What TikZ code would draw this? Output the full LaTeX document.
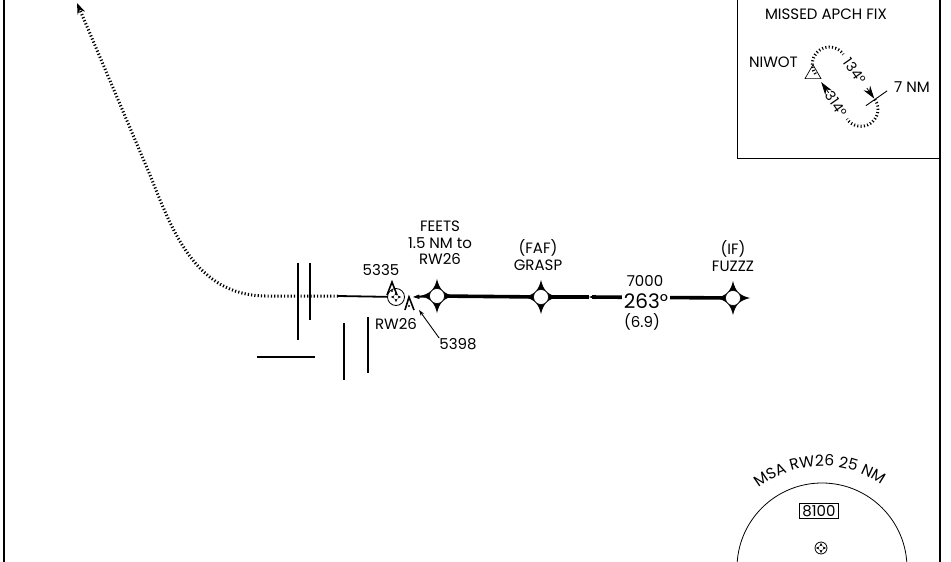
\documentclass[tikz,border=0pt]{standalone}
\usepackage{fontspec}
\setmainfont{Poppins}
\usepackage{tikz}
\usetikzlibrary{shapes,shapes.geometric,arrows.meta,decorations.text}

\tikzset{
  spikes/.pic={
    \fill (0,-17) .. controls (2.5,-6.5) and (6.5,-2.5) .. (17,0)
      .. controls (6.5,2.5) and (2.5,6.5) .. (0,17)
      .. controls (-2.5,6.5) and (-6.5,2.5) .. (-17,0)
      .. controls (-6.5,-2.5) and (-2.5,-6.5) .. cycle;
  }
}

\begin{document}
\begin{tikzpicture}[x=1pt,y=-1pt,
    lbl/.style={align=center,inner sep=0pt,font=\fontsize{15}{16.5}\selectfont},
    hlbl/.style={inner sep=0pt,font=\fontsize{14}{16}\selectfont,rotate=-55},
    wpt/.style={circle,draw,fill=white,line width=0.6pt,minimum size=15pt,inner sep=0pt},
    fly/.style={circle,draw,line width=0.8pt,inner sep=0pt},
    crs/.style={line width=3.6pt},
    rwybar/.style={line width=2.2pt},
    dots/.style={line width=3pt,dash pattern=on 1.2pt off 2.1pt},
    htick/.style={line width=3pt,dash pattern=on 1.1pt off 2.2pt},
    barb/.tip={Stealth[length=14pt,width=10pt,inset=10pt]},
    hold/.tip={Stealth[length=13pt,width=8pt]}
  ]
  \useasboundingbox (0,0) rectangle (951,562);

  % frame and missed approach box
  \draw[line width=1.8pt] (4,0) -- (4,562);
  \draw[line width=1.8pt] (940,0) -- (940,562);
  \draw[line width=0.8pt] (737,0) -- (737,158) -- (940,158);

  % runway bars
  \draw[rwybar] (298,263) -- (298,340);
  \draw[rwybar] (310,263) -- (310,320);
  \draw[rwybar] (257,357) -- (315,357);
  \draw[rwybar] (344,323) -- (344,380);
  \draw[rwybar] (368,317) -- (368,373);

  % fixes
  \pic at (437,296) {spikes};
  \node[wpt] (feets) at (437,296) {};
  \pic at (541,297) {spikes};
  \node[wpt] (grasp) at (541,297) {};
  \pic at (733,298) {spikes};
  \node[wpt] (fuzzz) at (733,298) {};

  \node[fly,minimum size=17pt] (rw) at (396,297) {};
  \pic[scale=0.3] at (396,297) {spikes};
  \fill[white] (396,297) circle (2.3);

  \coordinate (thr) at (413,297);
  \coordinate (mapt) at (338,296);
  \coordinate (ma) at (77,3);
  \coordinate (crsarr) at (589,297);

  % approach course
  \draw[crs,-{barb}] (fuzzz) -- (crsarr);
  \draw[crs] (crsarr) -- (grasp);
  \draw[crs] (grasp) -- (feets);
  \draw[line width=2pt,-{barb}] (feets) -- (thr);
  \draw[line width=1.8pt] (rw) -- (mapt);
  \draw[dots,-{Stealth[length=11pt,width=8pt]}] (mapt) -- (265,296)
    .. controls (195,295) and (172,230) .. (150,175) -- (ma);

  % obstacles
  \draw[line width=1.6pt] (387,295) -- (392,282) -- (397,295);
  \fill (392,291) circle (1.1);
  \draw[line width=1.6pt] (405,310) -- (409,297) -- (414,310);
  \fill (409,306) circle (1.1);
  \coordinate (ob2) at (419,310);

  % labels
  \node[lbl] (feetslbl) at (440,243) {FEETS\\1.5 NM to\\RW26};
  \node[lbl] (grasplbl) at (538,255) {(FAF)\\GRASP};
  \node[lbl] (fuzzzlbl) at (733,256) {(IF)\\FUZZZ};
  \node[lbl] (alt) at (645,281) {7000};
  \node[fill=white,inner sep=2pt,font=\fontsize{20}{24}\selectfont] (hdg) at (646,301) {263°};
  \node[lbl] (dist) at (642,322) {(6.9)};
  \node[lbl] (el1) at (381,270) {5335};
  \node[lbl] (rwlbl) at (396,324) {RW26};
  \node[lbl] (el2) at (458,344) {5398};
  \draw[line width=0.9pt,-{Stealth[length=6pt,width=4pt]}] (el2.north west) -- (ob2);

  % missed approach fix
  \node[lbl] (mafix) at (826,14) {MISSED APCH FIX};
  \node[lbl,anchor=east] (niwotlbl) at (798,62) {NIWOT};
  \node[lbl] (sevennm) at (912,87) {7 NM};
  \node[regular polygon,regular polygon sides=3,draw,line width=0.7pt,minimum size=18.5pt,inner sep=0pt] (niwot) at (813,74) {};
  \begin{scope}[shift={(831,63)},rotate=-55]
    \coordinate (h1) at (0,19);
    \coordinate (h2) at (0,-15);
    \coordinate (h3) at (55,-15);
    \coordinate (h4) at (55,19);
    \coordinate (a1) at (41,-15);
    \coordinate (a2) at (54,-15);
    \coordinate (a3) at (23,19);
    \coordinate (a4) at (10,19);
    \draw[htick] (h1) arc[start angle=90,end angle=270,radius=17];
    \draw[htick] (h3) arc[start angle=-90,end angle=90,radius=17];
    \path (h2) -- node[hlbl,pos=0.37] (outlbl) {134°} (h3);
    \path (h4) -- node[hlbl,pos=0.33] (inlbl) {314°} (h1);
    \draw[line width=0.8pt,-{hold}] (a1) -- (a2);
    \draw[line width=0.8pt,-{hold}] (a3) -- (a4);
    \draw[line width=0.9pt] (55,-30) -- (55,-4);
  \end{scope}

  % msa
  \draw[line width=0.8pt] (822,568) circle (85);
  \path[decorate,decoration={text along path,text={|\fontsize{15.5}{17}\selectfont|MSA RW26 25 NM},text align=center}]
    (822,568) ++(-135:102) arc[start angle=-135,end angle=-48,radius=102];
  \node[lbl,draw,line width=0.7pt,inner xsep=3pt,inner ysep=2pt] (msa) at (819,511) {8100};
  \node[fly,minimum size=12pt] (msac) at (821,548) {};
  \pic[scale=0.3] at (821,548) {spikes};
  \fill[white] (821,548) circle (2.3);
\end{tikzpicture}
\end{document}
